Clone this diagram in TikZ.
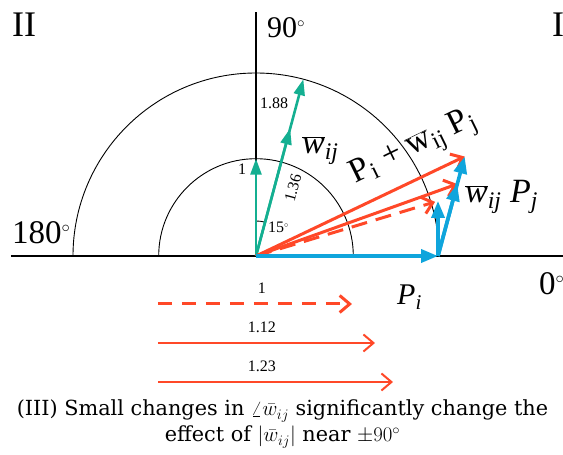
\RequirePackage{fix-cm}
\documentclass[tikz,border=0pt]{standalone}
\usepackage{fontspec}
\setmainfont{Liberation Serif}
\newfontfamily\capfont{DejaVu Serif}
\usetikzlibrary{arrows.meta, positioning}
\definecolor{cGreen}{RGB}{20, 175, 145}
\definecolor{cBlue}{RGB}{15, 165, 220}
\definecolor{cRed}{RGB}{255, 72, 40}
\newcommand{\wup}{\ensuremath{\overline{\mbox{w}}}}
\newcommand{\wit}{\ensuremath{\overline{\mbox{\itshape w}}}}
\newcommand{\dg}{\ensuremath{^{\scriptscriptstyle\circ}}}

\begin{document}
\begin{tikzpicture}[
    x=1pt, y=1pt,
    axis/.style={line width=1.2pt, black},
    circ/.style={line width=0.9pt, black},
    garrow/.style={-{Triangle[length=16pt,width=11pt]}, line width=2.6pt, color=cGreen},
    barrow/.style={-{Triangle[length=17pt,width=13pt]}, line width=3.6pt, color=cBlue},
    rarrow/.style={-{Straight Barb[length=10pt,width=17pt]}, line width=#1, color=cRed},
    rarrow/.default=3pt,
    lbl/.style={inner sep=0pt, anchor=base west},
    big/.style={font=\fontsize{30}{36}\selectfont},
    huge/.style={font=\fontsize{34}{40}\selectfont},
    small/.style={font=\fontsize{16}{19}\selectfont}
]
\useasboundingbox (-256,-199) rectangle (307,256);

% Axes and circles
\coordinate (O) at (0,0);
\coordinate (xl) at (-245,0);
\coordinate (xr) at (307,0);
\coordinate (yt) at (0,244);
\draw[axis] (xl) -- (xr);
\draw[axis] (O) -- (yt);
\draw[circ] (183,0) arc[start angle=0, end angle=180, radius=183];
\draw[circ] (97.3,0) arc[start angle=0, end angle=180, radius=97.3];
\draw[circ] (90:35) arc[start angle=90, end angle=75, radius=35];

% Quadrant and angle labels
\node[lbl, font=\fontsize{36}{40}\selectfont] (q2) at (-244,219) {II};
\node[lbl, font=\fontsize{36}{40}\selectfont] (q1) at (296,219) {I};
\node[lbl, big] (d90) at (11,218) {90\dg};
\node[lbl, font=\fontsize{33}{38}\selectfont] (d180) at (-244,12) {180\dg};
\node[lbl, font=\fontsize{33}{38}\selectfont] (d0) at (283,-39) {0\dg};

% Green: w_ij
\coordinate (g1) at (90:97.3);
\coordinate (g2) at (75:132);
\coordinate (g3) at (75:183);
\draw[garrow] (O) -- (g1);
\draw[garrow] (O) -- (g3);
\draw[garrow] (O) -- (g2);

\node[lbl, small] (n1) at (-18,81) {1};
\node[lbl, small] (n188) at (4,147) {1.88};
\node[small, inner sep=0pt, rotate=75] (n136) at (37,68) {1.36};
\node[lbl, small] (n15) at (12,23) {15\dg};
\node[lbl, huge] (wg) at (46,102) {\wit\textsubscript{\itshape ij}};

% Red: P_i + w_ij P_j
\coordinate (B) at (182,0);
\coordinate (b1) at ([shift={(90:55)}]B);
\coordinate (b2) at ([shift={(75:74.5)}]B);
\coordinate (b3) at ([shift={(75:103)}]B);
\draw[rarrow, dash pattern=on 16pt off 9pt, shorten >=3pt] (O) -- (b1);
\draw[rarrow] (O) -- (b2);
\draw[rarrow] (O) -- (b3);

% Blue: P_i and w_ij P_j
\draw[barrow] (O) -- (B);
\draw[barrow] (B) -- (b1);
\draw[barrow] (B) -- (b3);
\draw[barrow] (B) -- (b2);

\node[font=\fontsize{34}{40}\selectfont, inner sep=0pt, rotate=26] (sum) at (158,108)
    {P\textsubscript{i} + \wup\textsubscript{ij} P\textsubscript{j}};
\node[lbl, huge] (wp) at (209,53) {\wit\textsubscript{\itshape ij}\ \textit{P}\textsubscript{\itshape j}};
\node[lbl, big] (pi) at (141,-49) {\textit{P}\textsubscript{\itshape i}};

% Magnitudes
\coordinate (d0a) at (-98,-48);
\coordinate (d0b) at (96,-48);
\coordinate (d1a) at (-98,-87);
\coordinate (d1b) at (119,-87);
\coordinate (d2a) at (-98,-126);
\coordinate (d2b) at (137,-126);
\draw[rarrow, dash pattern=on 14pt off 10pt] (d0a) -- (d0b);
\draw[rarrow=2pt] (d1a) -- (d1b);
\draw[rarrow=2pt] (d2a) -- (d2b);
\node[small, inner sep=0pt] (m1) at (6,-32) {1};
\node[small, inner sep=0pt] (m2) at (6,-71) {1.12};
\node[small, inner sep=0pt] (m3) at (6,-110) {1.23};

% Caption
\node[font=\capfont\fontsize{20.8}{26}\selectfont, align=center, inner sep=0pt] (cap) at (26.5,-168)
    {(III) Small changes in $\angle\bar{w}_{ij}$ significantly change the\\
     effect of $|\bar{w}_{ij}|$ near $\pm90^\circ$};

\end{tikzpicture}
\end{document}
